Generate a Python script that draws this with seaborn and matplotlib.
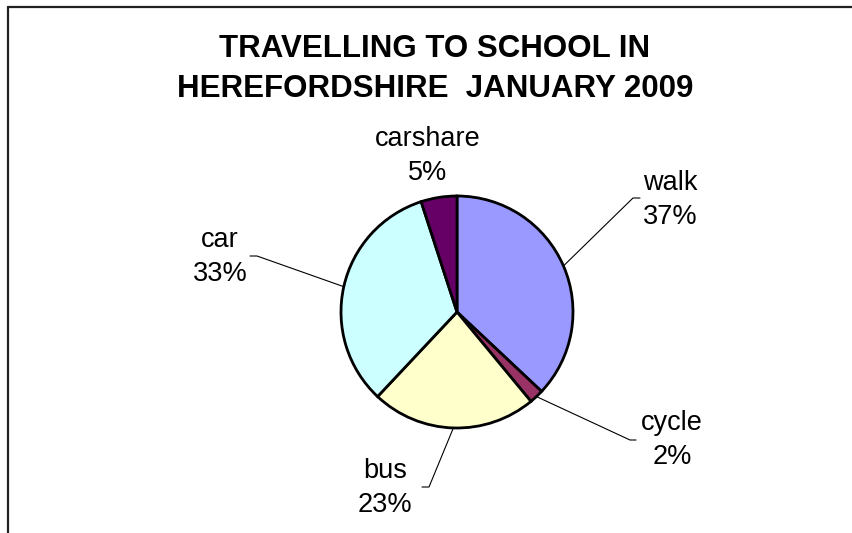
import matplotlib
matplotlib.use("Agg")
import matplotlib.pyplot as plt
import seaborn as sns
import numpy as np

# data
modes = ["walk", "cycle", "bus", "car", "carshare"]
shares = [37, 2, 23, 33, 5]
colours = ["#9999FF", "#993366", "#FFFFCC", "#CCFFFF", "#660066"]
title = "TRAVELLING TO SCHOOL IN\nHEREFORDSHIRE  JANUARY 2009"

sns.set_theme(style="white")
plt.rcParams["font.family"] = ["Liberation Sans", "DejaVu Sans"]

# canvas in pixels, y measured from the top
W, H = 853, 533
centre = (457, 312)
radius = 116

# label block centres and leader-line elbows (pixel layout)
label_pos = {
    "walk": (670, 200),
    "cycle": (672, 440),
    "bus": (385, 488),
    "car": (220, 257),
    "carshare": (428, 156),
}
elbows = {
    "walk": [(633, 198), (640, 198)],
    "cycle": [(630, 440), (636, 440)],
    "bus": [(429, 487), (422, 487)],
    "car": [(257, 256), (250, 256)],
}

fig = plt.figure(figsize=(W / 100, H / 100), dpi=100)
fig.patch.set_facecolor("white")
ax = fig.add_axes([0, 0, 1, 1])

wedges, _ = ax.pie(
    shares,
    colors=colours,
    startangle=90,
    counterclock=False,
    center=(centre[0], H - centre[1]),
    radius=radius,
    wedgeprops=dict(edgecolor="black", linewidth=2.0),
)
ax.set_xlim(0, W)
ax.set_ylim(0, H)
ax.set_aspect("equal")
ax.axis("off")

for w, mode, share in zip(wedges, modes, shares):
    lx, ly = label_pos[mode]
    ax.text(lx, H - ly, f"{mode}\n{share}%", ha="center", va="center",
            fontsize=19.5, linespacing=1.38, color="black")
    if mode in elbows:
        mid = np.deg2rad((w.theta1 + w.theta2) / 2)
        sx = centre[0] + radius * np.cos(mid)
        sy = H - centre[1] + radius * np.sin(mid)
        xs = [sx] + [p[0] for p in elbows[mode]]
        ys = [sy] + [H - p[1] for p in elbows[mode]]
        ax.plot(xs, ys, color="black", lw=0.8, zorder=0)

ax.text(435, H - 69, title, ha="center", va="center", fontsize=22.5,
        fontweight="bold", linespacing=1.42, color="black")

# chart-area frame: only top and left edges are visible
ax.plot([8, W], [H - 7, H - 7], color="#222222", lw=1.6, clip_on=False)
ax.plot([8, 8], [H - 7, 0], color="#222222", lw=1.6, clip_on=False)

fig.savefig("out.png", dpi=100, facecolor="white")
